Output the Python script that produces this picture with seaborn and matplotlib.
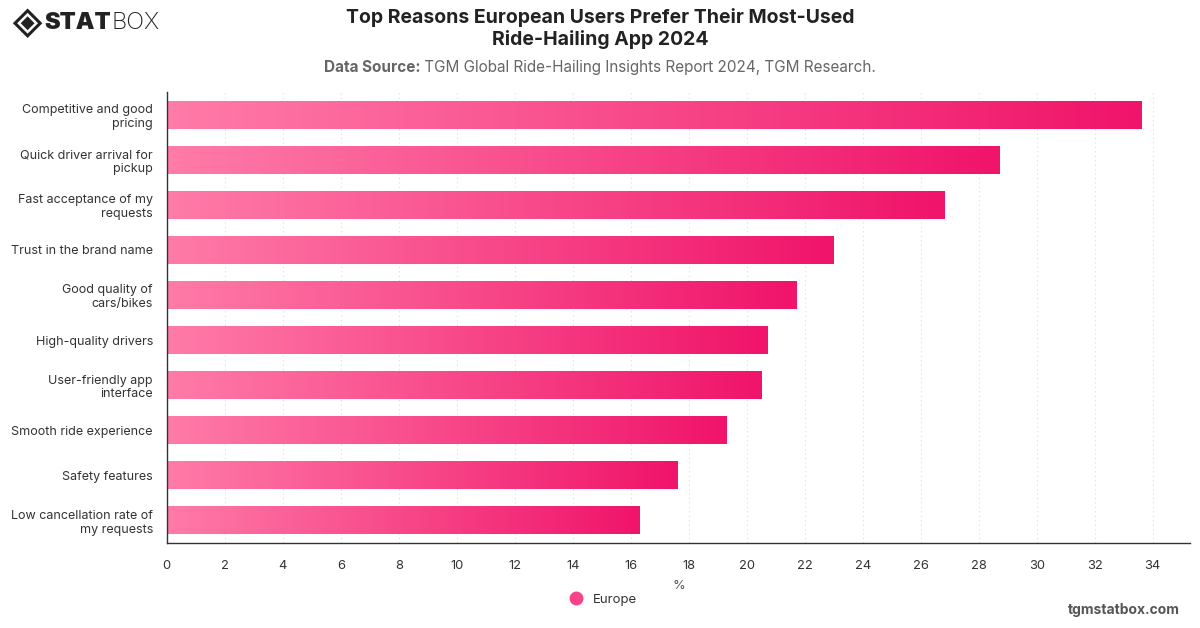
import numpy as np
import pandas as pd
import matplotlib
matplotlib.use("Agg")
import matplotlib.pyplot as plt
import seaborn as sns
from matplotlib.colors import LinearSegmentedColormap
from matplotlib.lines import Line2D
from matplotlib.patches import Polygon

categories = [
    "Competitive and good\npricing",
    "Quick driver arrival for\npickup",
    "Fast acceptance of my\nrequests",
    "Trust in the brand name",
    "Good quality of\ncars/bikes",
    "High-quality drivers",
    "User-friendly app\ninterface",
    "Smooth ride experience",
    "Safety features",
    "Low cancellation rate of\nmy requests",
]
values = [33.6, 28.7, 26.8, 23.0, 21.7, 20.7, 20.5, 19.3, 17.6, 16.3]
xticks = list(range(0, 36, 2))
series_name = "Europe"

sns.set_theme(style="white")
plt.rcParams["font.family"] = ["Inter", "DejaVu Sans"]

df = pd.DataFrame({"reason": categories, "value": values})

fig = plt.figure(figsize=(12, 6.28), dpi=100)
ax = fig.add_axes([0.139, 0.1354, 0.853, 0.718])

sns.barplot(data=df, x="value", y="reason", orient="h", ax=ax,
            color="#f7438a", width=0.62, saturation=1)

cmap = LinearSegmentedColormap.from_list("pinkgrad", ["#ff7ba8", "#f0146a"])
grad = np.linspace(0, 1, 256).reshape(1, -1)
for p in list(ax.patches):
    x0, y0 = p.get_x(), p.get_y()
    w, h = p.get_width(), p.get_height()
    p.set_facecolor("none")
    p.set_edgecolor("none")
    im = ax.imshow(grad, cmap=cmap, aspect="auto",
                   extent=[x0, x0 + w, y0 + h, y0], zorder=2,
                   interpolation="bicubic")
    im.set_clip_path(p)

ax.set_xlim(0, 35.3)
ax.set_ylim(9.5, -0.5)
ax.set_xticks(xticks)
ax.set_xticklabels([str(t) for t in xticks], fontsize=9.3, color="#333333")
ax.tick_params(axis="y", labelsize=9.0, labelcolor="#333333", length=0, pad=10)
ax.tick_params(axis="x", length=0, pad=12)
ax.set_ylabel("")
ax.set_xlabel("%", fontsize=9.3, color="#555555", labelpad=6)

ax.grid(axis="x", color="#dcdcdc", linestyle=(0, (1, 3)), linewidth=0.8, zorder=0)
ax.set_axisbelow(True)
for s in ["top", "right"]:
    ax.spines[s].set_visible(False)
for s in ["left", "bottom"]:
    ax.spines[s].set_color("#333333")
    ax.spines[s].set_linewidth(1.0)

for lbl in ax.get_yticklabels():
    lbl.set_horizontalalignment("right")
    lbl.set_multialignment("right")

# Title
fig.text(0.5, 0.988, "Top Reasons European Users Prefer Their Most-Used\nRide-Hailing App 2024",
         ha="center", va="top", fontsize=14, fontweight="bold", color="#222222",
         linespacing=1.25)

# Subtitle with bold part
t1 = fig.text(0.35, 0.892, "Data Source:", ha="left", va="center", fontsize=11,
              fontweight="bold", color="#666666")
t2 = fig.text(0.45, 0.892, " TGM Global Ride-Hailing Insights Report 2024, TGM Research.",
              ha="left", va="center", fontsize=11, color="#666666")
fig.canvas.draw()
r = fig.canvas.get_renderer()
w1 = t1.get_window_extent(r).width / fig.bbox.width
w2 = t2.get_window_extent(r).width / fig.bbox.width
start = 0.5 - (w1 + w2) / 2
t1.set_x(start)
t2.set_x(start + w1)

# Legend
handle = Line2D([], [], marker="o", linestyle="none", markersize=9,
                markerfacecolor="#f7438a", markeredgecolor="#f7438a")
fig.legend([handle], [series_name], loc="center", bbox_to_anchor=(0.5, 0.045),
           frameon=False, fontsize=9.5, handletextpad=0.3, labelcolor="#333333")

# Footer
fig.text(0.983, 0.018, "tgmstatbox.com", ha="right", va="bottom", fontsize=10,
         fontweight="bold", color="#555555")

# Logo
lx, ly, s = 0.023, 0.963, 0.0105
ar = 1200 / 628
outer = Polygon([[lx, ly + s * ar], [lx + s, ly], [lx, ly - s * ar], [lx - s, ly]],
                closed=True, transform=fig.transFigure, facecolor="none",
                edgecolor="#222222", linewidth=2.2)
inner = Polygon([[lx, ly + 0.55 * s * ar], [lx + 0.55 * s, ly], [lx, ly - 0.55 * s * ar],
                 [lx - 0.55 * s, ly]], closed=True, transform=fig.transFigure,
                facecolor="#222222", edgecolor="none")
fig.add_artist(outer)
fig.add_artist(inner)
ts = fig.text(0.037, 0.963, "STAT", ha="left", va="center", fontsize=17,
              fontweight="black", color="#222222")
fig.canvas.draw()
wts = ts.get_window_extent(fig.canvas.get_renderer()).width / fig.bbox.width
fig.text(0.037 + wts, 0.963, "BOX", ha="left", va="center", fontsize=17,
         fontweight="light", color="#222222")

fig.savefig("out.png", dpi=100)
